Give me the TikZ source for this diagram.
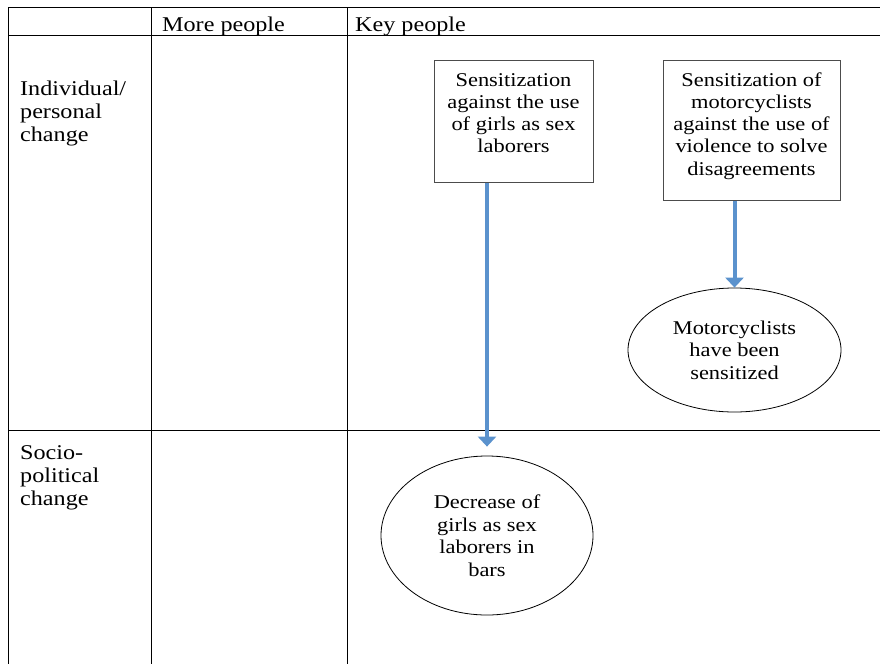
\documentclass[tikz,border=0pt]{standalone}
\usepackage{fontspec}
\setmainfont{Liberation Serif}[FakeStretch=1.15]
\usetikzlibrary{arrows.meta,shapes.geometric}

\definecolor{flowblue}{RGB}{91,146,205}

\tikzset{
    grid/.style={line width=1pt, black},
    cell/.style={inner sep=0pt, align=left, font=\fontsize{21}{23}\selectfont},
    stepbox/.style={draw=black!70, line width=1pt, inner sep=0pt,
        font=\fontsize{19.5}{22.3}\selectfont},
    outcome/.style={ellipse, draw, line width=0.8pt, inner sep=0pt, align=center,
        font=\fontsize{19.5}{22.5}\selectfont},
    flow/.style={draw=flowblue, line width=4pt, -{Triangle[width=18pt,length=10pt]}}
}

\begin{document}
\begin{tikzpicture}[x=1pt, y=-1pt]
    \useasboundingbox (0, 0) rectangle (880, 664);

    %% grade
    \foreach \y in {7, 35, 430} {
        \draw [grid] (8, \y) -- (880, \y);
    }
    \foreach \x in {8, 151, 347} {
        \draw [grid] (\x, 7) -- (\x, 664);
    }

    % header
    \draw
        node (more) [cell, anchor=base west] at (162, 31.5) {More people}
        node (key)  [cell, anchor=base west] at (355, 31.5) {Key people}
    ;
    % row labels
    \draw
        node (indiv) [cell, anchor=north west] at (20, 35)
            {\rule{0pt}{60.5pt}Individual/\\ personal\\ change}
        node (socio) [cell, anchor=north west] at (20, 430)
            {\rule{0pt}{29pt}Socio-\\ political\\ change}
    ;

    % actions
    \node (sensgirls) [stepbox] at (513.5, 121)
        {\parbox[c][122pt][t]{159pt}{\centering
            \rule{0pt}{26pt}Sensitization\\ against the use\\ of girls as sex\\ laborers}};
    \node (sensmoto) [stepbox] at (751.5, 130)
        {\parbox[c][140pt][t]{177pt}{\centering
            \rule{0pt}{26pt}Sensitization of\\ motorcyclists\\ against the use of\\
            violence to solve\\ disagreements}};

    % results
    \node (decgirls) [outcome, minimum width=212pt, minimum height=159pt] at (487, 535.5)
        {Decrease of\\ girls as sex\\ laborers in\\ bars};
    \node (motosens) [outcome, minimum width=213pt, minimum height=124pt] at (734.5, 350)
        {Motorcyclists\\ have been\\ sensitized};

    %% setas
    \draw [flow, shorten >=9pt] (sensgirls.south -| decgirls) -- (decgirls);
    \draw [flow] (sensmoto.south -| motosens) -- (motosens);
\end{tikzpicture}
\end{document}
